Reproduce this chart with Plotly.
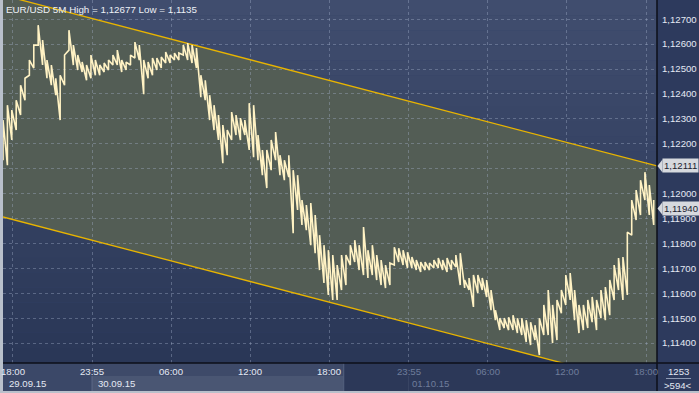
import plotly.graph_objects as go

# ---------------- data ----------------
title_text = "EUR/USD 5M High = 1,12677 Low = 1,1135"
n_bars = 595
bar_idx = list(range(0, 593, 4))  # 5-minute bar numbers of the samples
high = [1.12295, 1.12355, 1.12335, 1.12375, 1.12435, 1.12463, 1.12536, 1.12596, 1.12676, 1.12616,
        1.12536, 1.12516, 1.12463, 1.12475, 1.12556, 1.12656, 1.12596, 1.12556, 1.12528, 1.12516,
        1.12556, 1.12536, 1.12516, 1.12524, 1.12536, 1.12556, 1.12576, 1.12536, 1.12528, 1.12556,
        1.12608, 1.12596, 1.12536, 1.12528, 1.12544, 1.12544, 1.12548, 1.12568, 1.12556, 1.12564,
        1.12564, 1.12596, 1.12604, 1.12596, 1.12584, 1.12475, 1.12455, 1.12395, 1.12355, 1.12315,
        1.12275, 1.12255, 1.12327, 1.12315, 1.12303, 1.12295, 1.12363, 1.12355, 1.12235, 1.12175,
        1.12175, 1.12215, 1.12247, 1.12154, 1.12134, 1.12154, 1.12094, 1.12074, 1.11974, 1.11954,
        1.11962, 1.11914, 1.11833, 1.11793, 1.11773, 1.11753, 1.11713, 1.11753, 1.11753, 1.11793,
        1.11813, 1.11793, 1.11866, 1.11773, 1.11793, 1.11753, 1.11733, 1.11713, 1.11721, 1.11785,
        1.11781, 1.11773, 1.11765, 1.11745, 1.11733, 1.11725, 1.11725, 1.11721, 1.11733, 1.11741,
        1.11733, 1.11741, 1.11733, 1.11753, 1.11761, 1.11653, 1.11661, 1.11673, 1.11673, 1.11661,
        1.11653, 1.11613, 1.11532, 1.11500, 1.11500, 1.11504, 1.11512, 1.11500, 1.11500, 1.11492,
        1.11484, 1.11472, 1.11500, 1.11553, 1.11613, 1.11553, 1.11573, 1.11613, 1.11673, 1.11681,
        1.11613, 1.11553, 1.11553, 1.11573, 1.11585, 1.11573, 1.11613, 1.11625, 1.11653, 1.11713,
        1.11741, 1.11745, 1.11845, 1.11974, 1.12014, 1.12054, 1.12086, 1.12034, 1.11974]
low = [1.12134, 1.12114, 1.12215, 1.12255, 1.12315, 1.12375, 1.12475, 1.12504, 1.12596, 1.12516,
       1.12463, 1.12435, 1.12395, 1.12295, 1.12435, 1.12576, 1.12516, 1.12496, 1.12488, 1.12455,
       1.12463, 1.12475, 1.12475, 1.12488, 1.12496, 1.12516, 1.12516, 1.12488, 1.12496, 1.12516,
       1.12544, 1.12536, 1.12399, 1.12463, 1.12475, 1.12496, 1.12504, 1.12524, 1.12524, 1.12536,
       1.12536, 1.12556, 1.12536, 1.12524, 1.12504, 1.12387, 1.12375, 1.12295, 1.12255, 1.12215,
       1.12122, 1.12154, 1.12215, 1.12235, 1.12215, 1.12235, 1.12175, 1.12146, 1.12134, 1.12074,
       1.12022, 1.12094, 1.12134, 1.12074, 1.12054, 1.12066, 1.11841, 1.11934, 1.11874, 1.11853,
       1.11793, 1.11761, 1.11693, 1.11641, 1.11593, 1.11573, 1.11573, 1.11613, 1.11633, 1.11713,
       1.11725, 1.11693, 1.11673, 1.11661, 1.11673, 1.11653, 1.11633, 1.11621, 1.11633, 1.11713,
       1.11725, 1.11713, 1.11701, 1.11701, 1.11693, 1.11685, 1.11693, 1.11693, 1.11701, 1.11701,
       1.11693, 1.11685, 1.11693, 1.11705, 1.11633, 1.11621, 1.11613, 1.11545, 1.11601, 1.11613,
       1.11585, 1.11532, 1.11492, 1.11452, 1.11460, 1.11452, 1.11452, 1.11440, 1.11432, 1.11404,
       1.11392, 1.11412, 1.11352, 1.11432, 1.11432, 1.11400, 1.11412, 1.11520, 1.11553, 1.11573,
       1.11492, 1.11440, 1.11452, 1.11460, 1.11484, 1.11452, 1.11500, 1.11492, 1.11512, 1.11573,
       1.11613, 1.11573, 1.11593, 1.11833, 1.11894, 1.11914, 1.11974, 1.11914, 1.11874]
last_close = 1.11940

channel_x = [0, 595]
channel_upper = [1.12796, 1.12111]
channel_lower = [1.11906, 1.11221]

y_ticks = [1.114, 1.115, 1.116, 1.117, 1.118, 1.119, 1.120, 1.121, 1.122, 1.123, 1.124, 1.125, 1.126, 1.127]
# the 1,12100 label is hidden behind the channel price tag in the reference
y_tick_text = ["1,11400", "1,11500", "1,11600", "1,11700", "1,11800", "1,11900", "1,12000",
               "", "1,12200", "1,12300", "1,12400", "1,12500", "1,12600", "1,12700"]
time_tick_idx = [9, 81, 153, 225, 297, 369, 441, 513, 585]
time_tick_text = ["18:00", "23:55", "06:00", "12:00", "18:00", "23:55", "06:00", "12:00", "18:00"]
date_idx = [22, 103, 389]
date_text = ["29.09.15", "30.09.15", "01.10.15"]
dim_from_idx = 310
bars_count_text = "1253"
bars_visible_text = ">594<"

# ---------------- geometry / style ----------------
W, H = 699, 393
ML, MR, MT, MB = 3, 42, 0, 30
PW, PH = W - ML - MR, H - MT - MB
Y0, Y1 = 1.11320, 1.12777

def pxx(px):  # pixel x -> paper x
    return (px - ML) / PW

def pxy(py):  # pixel y -> paper y
    return (H - MB - py) / PH

font_name = "Liberation Sans, Arial, sans-serif"
txt_col = "#e4e9f3"
dim_col = "#6f7d9b"
price_col = "#fff2c4"
chan_col = "#e8b400"

# price path: vertical high-low segments joined in sequence
px_, py_ = [], []
for b, lo, hi in zip(bar_idx, low, high):
    px_ += [b, b]
    py_ += [lo, hi]

fig = go.Figure()
fig.add_trace(go.Scatter(x=channel_x, y=channel_upper, mode="lines",
                         line=dict(color=chan_col, width=1.3), hoverinfo="skip"))
fig.add_trace(go.Scatter(x=channel_x, y=channel_lower, mode="lines",
                         line=dict(color=chan_col, width=1.3), hoverinfo="skip"))
fig.add_trace(go.Scatter(x=px_, y=py_, mode="lines",
                         line=dict(color=price_col, width=1.6), hoverinfo="skip"))

shapes = []
# gradient background of plot
top = (64, 77, 110)
bot = (42, 55, 87)
nb = 24
for i in range(nb):
    t = i / (nb - 1)
    c = tuple(int(round(top[k] + (bot[k] - top[k]) * t)) for k in range(3))
    shapes.append(dict(type="rect", xref="paper", yref="paper", x0=0, x1=1,
                       y0=1 - (i + 1) / nb, y1=1 - i / nb, layer="below",
                       line=dict(width=0), fillcolor="rgb(%d,%d,%d)" % c))
# channel fill
path = "M %g,%g L %g,%g L %g,%g L %g,%g Z" % (channel_x[0], channel_upper[0], channel_x[1], channel_upper[1],
                                             channel_x[1], channel_lower[1], channel_x[0], channel_lower[0])
shapes.append(dict(type="path", xref="x", yref="y", path=path, layer="below",
                   line=dict(width=0), fillcolor="#535d55"))

# bottom time strip
def bx(i):
    return i / n_bars

strip_bot = pxy(391)
shapes += [
    dict(type="rect", xref="paper", yref="paper", x0=0, x1=bx(81), y0=strip_bot, y1=0,
         line=dict(width=0), fillcolor="#3b4868", layer="below"),
    dict(type="rect", xref="paper", yref="paper", x0=bx(81), x1=bx(dim_from_idx), y0=strip_bot, y1=0,
         line=dict(width=0), fillcolor="#3e4a69", layer="below"),
    dict(type="rect", xref="paper", yref="paper", x0=bx(81), x1=bx(dim_from_idx), y0=strip_bot, y1=pxy(376),
         line=dict(width=0), fillcolor="#4a5673", layer="below"),
    dict(type="rect", xref="paper", yref="paper", x0=bx(dim_from_idx), x1=1, y0=strip_bot, y1=0,
         line=dict(width=0), fillcolor="#2c3858", layer="below"),
    dict(type="line", xref="paper", yref="paper", x0=bx(81), x1=bx(81), y0=strip_bot, y1=pxy(376),
         line=dict(width=1, color="#5d6987")),
    dict(type="line", xref="paper", yref="paper", x0=bx(dim_from_idx), x1=bx(dim_from_idx), y0=strip_bot, y1=0,
         line=dict(width=1, color="#56627f")),
    dict(type="line", xref="paper", yref="paper", x0=bx(369), x1=bx(369), y0=strip_bot, y1=pxy(376),
         line=dict(width=1, color="#3a4664")),
    # borders
    dict(type="line", xref="paper", yref="paper", x0=1, x1=1, y0=strip_bot, y1=1,
         line=dict(width=1.5, color="#0c0f18")),
    dict(type="line", xref="paper", yref="paper", x0=pxx(0), x1=pxx(W), y0=0, y1=0,
         line=dict(width=1.5, color="#0c0f18")),
    dict(type="rect", xref="paper", yref="paper", x0=pxx(0), x1=pxx(3), y0=pxy(H), y1=pxy(0),
         line=dict(width=0), fillcolor="#b9c0cb"),
    dict(type="rect", xref="paper", yref="paper", x0=pxx(0), x1=pxx(W), y0=pxy(H), y1=strip_bot,
         line=dict(width=0), fillcolor="#b9c0cb"),
    # bottom-right counter separator
    dict(type="line", xref="paper", yref="paper", x0=pxx(666), x1=pxx(691), y0=pxy(378.5), y1=pxy(378.5),
         line=dict(width=1, color="#8e9ab3")),
]

# price tags on the right axis
unit_per_px = (Y1 - Y0) / PH
annotations = []
for val, txt in [(channel_upper[1], "1,12111"), (last_close, "1,11940")]:
    hh = 6.5 * unit_per_px
    shapes.append(dict(type="path", xref="paper", yref="y",
                       path="M %g,%g L %g,%g L %g,%g Z" % (pxx(657.5), val, pxx(662.5), val + hh, pxx(662.5), val - hh),
                       fillcolor="#d6d9de", line=dict(width=0)))
    annotations.append(dict(xref="paper", yref="y", x=pxx(662), y=val, xanchor="left", yanchor="middle",
                            text=txt, showarrow=False, bgcolor="#d6d9de", borderpad=1,
                            font=dict(family=font_name, size=9.6, color="#1b2130")))

annotations.append(dict(xref="paper", yref="paper", x=pxx(4), y=pxy(2), xanchor="left", yanchor="top",
                        text=title_text, showarrow=False,
                        font=dict(family=font_name, size=9.8, color="#eef1f6")))
for i, t in zip(time_tick_idx, time_tick_text):
    annotations.append(dict(xref="x", yref="paper", x=i, y=pxy(372), xanchor="center", yanchor="middle",
                            text=t, showarrow=False,
                            font=dict(family=font_name, size=9.6, color=txt_col if i < dim_from_idx else dim_col)))
for i, t in zip(date_idx, date_text):
    annotations.append(dict(xref="x", yref="paper", x=i, y=pxy(383.5), xanchor="center", yanchor="middle",
                            text=t, showarrow=False,
                            font=dict(family=font_name, size=9.6, color=txt_col if i < dim_from_idx else dim_col)))
annotations.append(dict(xref="paper", yref="paper", x=pxx(678.5), y=pxy(372), xanchor="center", yanchor="middle",
                        text=bars_count_text, showarrow=False,
                        font=dict(family=font_name, size=9.6, color=txt_col)))
annotations.append(dict(xref="paper", yref="paper", x=pxx(678.5), y=pxy(385), xanchor="center", yanchor="middle",
                        text=bars_visible_text, showarrow=False,
                        font=dict(family=font_name, size=9.6, color=txt_col)))

grid_col = "rgba(165,180,205,0.38)"
fig.update_layout(
    width=W, height=H, margin=dict(l=ML, r=MR, t=MT, b=MB, pad=0),
    paper_bgcolor="#2d3a5d", plot_bgcolor="#35426a",
    showlegend=False, shapes=shapes, annotations=annotations,
    xaxis=dict(range=[0, n_bars], tickvals=time_tick_idx, showticklabels=False, ticks="",
               showgrid=True, gridcolor=grid_col, griddash="3px,3px", gridwidth=1,
               zeroline=False, showline=False, fixedrange=True),
    yaxis=dict(range=[Y0, Y1], side="right", tickvals=y_ticks, ticktext=y_tick_text,
               ticks="", ticklabelstandoff=4,
               tickfont=dict(family=font_name, size=9.6, color=txt_col),
               showgrid=True, gridcolor=grid_col, griddash="3px,3px", gridwidth=1,
               zeroline=False, showline=False, fixedrange=True),
)

fig.write_html("out.html")
